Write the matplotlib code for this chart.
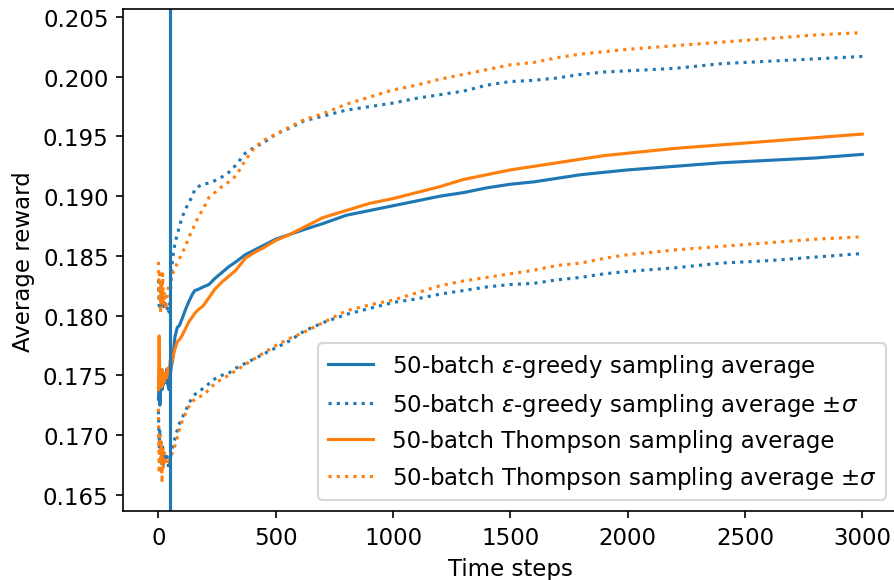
import numpy as np
import matplotlib.pyplot as plt

steps = [0, 3, 6, 9, 12, 15, 18, 21, 25, 30, 35, 40, 45, 50, 55, 60, 70, 80, 90, 100,
         115, 130, 145, 155, 170, 190, 215, 240, 270, 300, 330, 370, 410, 450, 500, 560,
         620, 700, 800, 900, 1000, 1100, 1200, 1300, 1400, 1500, 1600, 1700, 1800, 1900,
         2000, 2200, 2400, 2600, 2800, 3000]

eps_avg = [0.1730, 0.1745, 0.1725, 0.1740, 0.1752, 0.1738, 0.1748, 0.1742, 0.1750, 0.1744,
           0.1755, 0.1742, 0.1738, 0.1750, 0.1758, 0.1762, 0.1782, 0.1790, 0.1792, 0.1797,
           0.1805, 0.1812, 0.1818, 0.1821, 0.1822, 0.1824, 0.1826, 0.1831, 0.1836, 0.1841,
           0.1845, 0.1851, 0.1855, 0.1859, 0.1864, 0.1868, 0.1872, 0.1877, 0.1884, 0.1888,
           0.1892, 0.1896, 0.1900, 0.1903, 0.1907, 0.1910, 0.1912, 0.1915, 0.1918, 0.1920,
           0.1922, 0.1925, 0.1928, 0.1930, 0.1932, 0.1935]

eps_up = [0.1830, 0.1808, 0.1815, 0.1805, 0.1812, 0.1818, 0.1808, 0.1812, 0.1806, 0.1810,
          0.1804, 0.1808, 0.1803, 0.1815, 0.1835, 0.1848, 0.1860, 0.1868, 0.1875, 0.1882,
          0.1889, 0.1895, 0.1900, 0.1906, 0.1908, 0.1910, 0.1911, 0.1913, 0.1916, 0.1920,
          0.1926, 0.1936, 0.1941, 0.1945, 0.1952, 0.1957, 0.1963, 0.1967, 0.1972, 0.1975,
          0.1978, 0.1982, 0.1985, 0.1988, 0.1993, 0.1996, 0.1997, 0.1999, 0.2002, 0.2004,
          0.2005, 0.2007, 0.2011, 0.2013, 0.2015, 0.2017]

eps_low = [0.1720, 0.1690, 0.1705, 0.1683, 0.1695, 0.1680, 0.1690, 0.1676, 0.1686, 0.1678,
           0.1685, 0.1676, 0.1672, 0.1680, 0.1685, 0.1690, 0.1697, 0.1704, 0.1710, 0.1714,
           0.1720, 0.1727, 0.1731, 0.1734, 0.1736, 0.1739, 0.1743, 0.1747, 0.1750, 0.1752,
           0.1756, 0.1760, 0.1764, 0.1768, 0.1773, 0.1779, 0.1787, 0.1794, 0.1801, 0.1806,
           0.1811, 0.1814, 0.1818, 0.1821, 0.1824, 0.1826, 0.1827, 0.1830, 0.1832, 0.1835,
           0.1837, 0.1840, 0.1844, 0.1846, 0.1849, 0.1852]

ts_avg = [0.1738, 0.1783, 0.1745, 0.1752, 0.1740, 0.1755, 0.1742, 0.1750, 0.1745, 0.1752,
          0.1748, 0.1756, 0.1752, 0.1762, 0.1760, 0.1764, 0.1772, 0.1778, 0.1780, 0.1783,
          0.1789, 0.1795, 0.1799, 0.1802, 0.1805, 0.1808, 0.1815, 0.1822, 0.1828, 0.1833,
          0.1838, 0.1848, 0.1853, 0.1857, 0.1863, 0.1868, 0.1874, 0.1882, 0.1888, 0.1894,
          0.1898, 0.1903, 0.1908, 0.1914, 0.1918, 0.1922, 0.1925, 0.1928, 0.1931, 0.1934,
          0.1936, 0.1940, 0.1943, 0.1946, 0.1949, 0.1952]

ts_up = [0.1845, 0.1815, 0.1838, 0.1802, 0.1828, 0.1808, 0.1835, 0.1810, 0.1820, 0.1805,
         0.1815, 0.1822, 0.1826, 0.1828, 0.1831, 0.1835, 0.1839, 0.1844, 0.1848, 0.1852,
         0.1858, 0.1866, 0.1872, 0.1876, 0.1883, 0.1889, 0.1899, 0.1903, 0.1908, 0.1912,
         0.1917, 0.1930, 0.1941, 0.1947, 0.1952, 0.1958, 0.1964, 0.1969, 0.1977, 0.1983,
         0.1989, 0.1993, 0.1998, 0.2002, 0.2006, 0.2010, 0.2012, 0.2016, 0.2019, 0.2021,
         0.2023, 0.2026, 0.2029, 0.2032, 0.2035, 0.2037]

ts_low = [0.1722, 0.1668, 0.1700, 0.1680, 0.1695, 0.1660, 0.1690, 0.1672, 0.1685, 0.1675,
          0.1680, 0.1679, 0.1677, 0.1683, 0.1684, 0.1685, 0.1691, 0.1698, 0.1705, 0.1711,
          0.1718, 0.1724, 0.1728, 0.1730, 0.1732, 0.1733, 0.1738, 0.1743, 0.1747, 0.1750,
          0.1754, 0.1759, 0.1764, 0.1769, 0.1775, 0.1781, 0.1786, 0.1794, 0.1804, 0.1809,
          0.1813, 0.1819, 0.1825, 0.1829, 0.1832, 0.1835, 0.1838, 0.1842, 0.1844, 0.1848,
          0.1851, 0.1855, 0.1858, 0.1861, 0.1864, 0.1866]

batch = 50

plt.rcParams['font.size'] = 11
fig = plt.figure(figsize=(5.96, 3.8733), dpi=150)
ax = fig.add_axes([0.1379, 0.1182, 0.8660, 0.8645])

ax.plot(steps, eps_avg, color='C0', label=r'50-batch $\varepsilon$-greedy sampling average')
ax.plot(steps, eps_up, ':', color='C0', label=r'50-batch $\varepsilon$-greedy sampling average $\pm\sigma$')
ax.plot(steps, eps_low, ':', color='C0')
ax.plot(steps, ts_avg, color='C1', label='50-batch Thompson sampling average')
ax.plot(steps, ts_up, ':', color='C1', label=r'50-batch Thompson sampling average $\pm\sigma$')
ax.plot(steps, ts_low, ':', color='C1')
ax.axvline(batch, color='C0')

ax.set_xlim(-150, 3150)
ax.set_ylim(0.16361, 0.20567)
ax.set_yticks(np.arange(0.165, 0.2051, 0.005))
ax.set_xlabel('Time steps')
ax.set_ylabel('Average reward')
ax.legend(loc='lower right')

fig.savefig('out.png', dpi=150)
